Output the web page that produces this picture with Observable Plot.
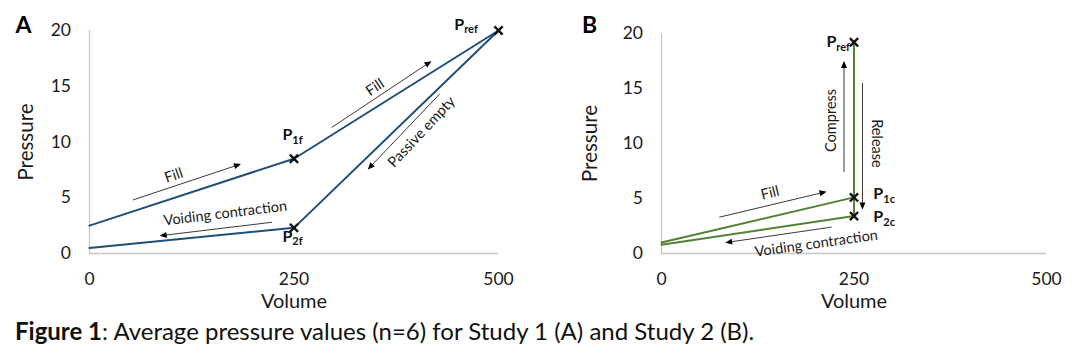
<!DOCTYPE html>
<html>
<head>
<meta charset="utf-8">
<script src="https://cdn.jsdelivr.net/npm/d3@7"></script>
<script src="https://cdn.jsdelivr.net/npm/@observablehq/plot@0.6"></script>
<style>
  html, body { margin: 0; padding: 0; background: #fff; }
  #wrap { width: 1080px; height: 355px; position: relative; overflow: hidden; }
  #panels { display: flex; flex-direction: row; }
  #caption { font-family: Lato, "Open Sans", sans-serif; font-size: 24px; line-height: 28px; color: #111; margin: 7px 0 0 15px; white-space: nowrap; }
</style>
</head>
<body>
<div id="wrap">
  <div id="panels"></div>
  <div id="caption"><b>Figure 1</b>: Average pressure values (n=6) for Study 1 (A) and Study 2 (B).</div>
</div>
<script>
// ---- data ----
const xTicks = [0, 250, 500];
const yTicks = [0, 5, 10, 15, 20];

// Study 1 (A): fill then passive empty / voiding loop
const volumeA = [0, 250, 500, 250, 0];
const pressureA = [2.5, 8.5, 20, 2.3, 0.5];
const pointVolumeA = [250, 250, 500];
const pointPressureA = [8.5, 2.3, 20];
const pointSubA = ["1f", "2f", "ref"];
const labelVolumeA = [248, 248, 458];
const labelPressureA = [10.6, 1.5, 20.5];

// Study 2 (B)
const volumeB = [0, 250, 250, 250, 0];
const pressureB = [1.0, 5.1, 19.2, 3.4, 0.8];
const pointVolumeB = [250, 250, 250];
const pointPressureB = [19.2, 5.1, 3.4];
const pointSubB = ["ref", "1c", "2c"];
const labelVolumeB = [227, 288, 288];
const labelPressureB = [19.2, 5.4, 3.3];

// annotation arrows (data coordinates)
const arrowsA = [
  {x1: 53, y1: 4.8, x2: 184, y2: 8.0},
  {x1: 296, y1: 11.3, x2: 417, y2: 17.2},
  {x1: 428, y1: 14.3, x2: 341, y2: 7.6},
  {x1: 223, y1: 2.8, x2: 87, y2: 1.6}
];
const notesA = [
  {text: "Fill", x: 103, y: 7.0, angle: -19},
  {text: "Fill", x: 349, y: 14.9, angle: -34},
  {text: "Passive empty", x: 406, y: 10.9, angle: -47},
  {text: "Voiding contraction", x: 166, y: 3.6, angle: -7}
];
const arrowsB = [
  {x1: 75, y1: 3.3, x2: 213, y2: 5.6},
  {x1: 221, y1: 2.4, x2: 84, y2: 1.0},
  {x1: 237, y1: 7.4, x2: 237, y2: 17.4},
  {x1: 261, y1: 15.5, x2: 261, y2: 4.1}
];
const notesB = [
  {text: "Fill", x: 141, y: 5.5, angle: -14},
  {text: "Voiding contraction", x: 201, y: 0.9, angle: -8},
  {text: "Compress", x: 220, y: 12.1, angle: -90},
  {text: "Release", x: 279, y: 10.0, angle: 90}
];

const FONT = "Lato, 'Open Sans', sans-serif";

function panel(opts) {
  const line = opts.vol.map((v, i) => ({v, p: opts.pres[i]}));
  const pts = opts.pv.map((v, i) => ({v, p: opts.pp[i]}));
  const labs = opts.lv.map((v, i) => ({v, p: opts.lp[i], sub: opts.subs[i]}));
  const svg = Plot.plot({
    width: 540, height: 310,
    marginLeft: opts.ml, marginRight: opts.mr, marginTop: opts.mt, marginBottom: 57,
    style: {fontFamily: FONT, fontSize: "17.5px", color: "#1a1a1a", background: "white", overflow: "visible"},
    x: {domain: [0, 500], ticks: xTicks, tickSize: 0, tickPadding: 19, label: null},
    y: {domain: [0, 20], ticks: yTicks, tickSize: 0, tickPadding: 18.5, label: null},
    marks: [
      Plot.ruleY([0], {stroke: "#c8c8c8", strokeWidth: 1.3}),
      Plot.ruleX([0], {stroke: "#c8c8c8", strokeWidth: 1.3}),
      Plot.line(line, {x: "v", y: "p", stroke: opts.color, strokeWidth: 2, curve: "linear"}),
      Plot.link(opts.arrows, {x1: "x1", y1: "y1", x2: "x2", y2: "y2", stroke: "#3a3a3a", strokeWidth: 1, markerEnd: "arrow"}),
      Plot.text(opts.notes, {x: "x", y: "y", text: "text", rotate: "angle", fontSize: 14.5, fill: "#1a1a1a", textAnchor: "middle", lineAnchor: "middle"}),
      Plot.dot(pts, {x: "v", y: "p", symbol: "times", r: 3.8, stroke: "#111", strokeWidth: 2.4}),
      Plot.text(labs, {x: "v", y: "p", text: () => "P", fontSize: 16, fontWeight: "bold", fill: "#111", textAnchor: "end", lineAnchor: "middle"}),
      Plot.text(labs, {x: "v", y: "p", text: "sub", fontSize: 11, fontWeight: "bold", fill: "#111", textAnchor: "start", lineAnchor: "middle", dy: 5}),
      Plot.text(["Pressure"], {frameAnchor: "left", dx: opts.pdx, rotate: -90, fontSize: 20.5, fill: "#1a1a1a", textAnchor: "middle", lineAnchor: "middle"}),
      Plot.text(["Volume"], {frameAnchor: "bottom", dy: 48, fontSize: 20, fill: "#1a1a1a", textAnchor: "middle", lineAnchor: "middle"}),
      Plot.text([opts.letter], {frameAnchor: "top-left", dx: opts.ldx, dy: opts.ldy, fontSize: 23, fontWeight: "bold", fill: "#000", textAnchor: "middle", lineAnchor: "middle"})
    ]
  });
  // filled triangular arrowheads
  svg.querySelectorAll("marker").forEach(m => {
    m.setAttribute("overflow", "visible");
    m.setAttribute("stroke", "none");
    m.setAttribute("fill", "#000");
    const path = m.querySelector("path");
    if (path) path.setAttribute("d", "M-9,-4.5L1.5,0L-9,4.5Z");
  });
  return svg;
}

const host = document.getElementById("panels");
host.appendChild(panel({
  vol: volumeA, pres: pressureA, pv: pointVolumeA, pp: pointPressureA,
  lv: labelVolumeA, lp: labelPressureA, subs: pointSubA,
  arrows: arrowsA, notes: notesA, color: "#1f4e79", letter: "A",
  ml: 89, mr: 42, mt: 30, pdx: -63, ldx: -66, ldy: -5
}));
host.appendChild(panel({
  vol: volumeB, pres: pressureB, pv: pointVolumeB, pp: pointPressureB,
  lv: labelVolumeB, lp: labelPressureB, subs: pointSubB,
  arrows: arrowsB, notes: notesB, color: "#548235", letter: "B",
  ml: 121, mr: 34, mt: 33, pdx: -71, ldx: -72, ldy: -8
}));
</script>
</body>
</html>
